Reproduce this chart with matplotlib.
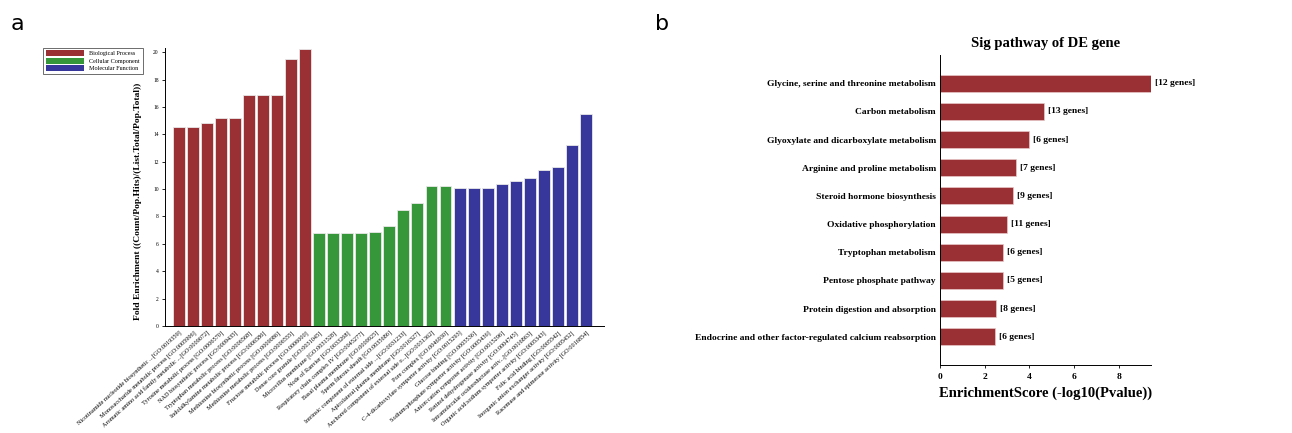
import matplotlib
matplotlib.use("Agg")
import matplotlib.pyplot as plt
from matplotlib.patches import Patch
import numpy as np

# panel a : GO enrichment data
go_terms = [
    "Nicotinamide nucleotide biosynthetic ...[GO:0019359]",
    "Monosaccharide metabolic process [GO:0005996]",
    "Aromatic amino acid family metabolic ...[GO:0009072]",
    "Tyrosine metabolic process [GO:0006570]",
    "NAD biosynthetic process [GO:0009435]",
    "Tryptophan metabolic process [GO:0006568]",
    "Indolalkylamine metabolic process [GO:0006586]",
    "Methionine biosynthetic process [GO:0009086]",
    "Methionine metabolic process [GO:0006555]",
    "Fructose metabolic process [GO:0006000]",
    "Dense core granule [GO:0031045]",
    "Microvillus membrane [GO:0031528]",
    "Node of Ranvier [GO:0033268]",
    "Respiratory chain complex IV [GO:0045277]",
    "Basal plasma membrane [GO:0009925]",
    "Sperm fibrous sheath [GO:0035686]",
    "Intrinsic component of external side ...[GO:0031233]",
    "Apicolateral plasma membrane [GO:0016327]",
    "Anchored component of external side o...[GO:0031362]",
    "Pore complex [GO:0046930]",
    "C-4-dicarboxylate symporter activity [GO:0015293]",
    "Glucose binding [GO:0005536]",
    "Sodium:phosphate symporter activity [GO:0005436]",
    "Anion:cation symporter activity [GO:0015296]",
    "Retinol dehydrogenase activity [GO:0004745]",
    "Intramolecular oxidoreductase activ...[GO:0016863]",
    "Organic acid:sodium symporter activity [GO:0005343]",
    "Folic acid binding [GO:0005542]",
    "Inorganic anion exchanger activity [GO:0005452]",
    "Racemase and epimerase activity [GO:0016854]",
]
fold_bp = [14.5, 14.5, 14.8, 15.2, 15.2, 16.9, 16.9, 16.9, 19.5, 20.2]
fold_cc = [6.8, 6.8, 6.8, 6.8, 6.9, 7.3, 8.5, 9.0, 10.2, 10.2]
fold_mf = [10.1, 10.1, 10.1, 10.4, 10.6, 10.8, 11.4, 11.6, 13.2, 15.5]
categories = ["Biological Process", "Cellular Component", "Molecular Function"]

# panel b : KEGG pathway data
pathways = [
    "Glycine, serine and threonine metabolism",
    "Carbon metabolism",
    "Glyoxylate and dicarboxylate metabolism",
    "Arginine and proline metabolism",
    "Steroid hormone biosynthesis",
    "Oxidative phosphorylation",
    "Tryptophan metabolism",
    "Pentose phosphate pathway",
    "Protein digestion and absorption",
    "Endocrine and other factor-regulated calcium reabsorption",
]
enrich_score = [9.45, 4.65, 3.97, 3.42, 3.27, 3.0, 2.83, 2.8, 2.5, 2.47]
gene_counts = [12, 13, 6, 7, 9, 11, 6, 5, 8, 6]

red = "#9b3034"
green = "#36973a"
blue = "#36369b"
serif = "Liberation Serif"

fig = plt.figure(figsize=(12.92, 4.33), dpi=100)

# ---- panel a ----
ax1 = fig.add_axes([0.1277, 0.247, 0.3398, 0.642])
values = fold_bp + fold_cc + fold_mf
colors = [red] * len(fold_bp) + [green] * len(fold_cc) + [blue] * len(fold_mf)
x = np.arange(len(values))
ax1.bar(x, values, width=0.85, color=colors, edgecolor="#e8e8e8", linewidth=0.6)
ax1.set_xlim(-1.0, 30.3)
ax1.set_ylim(0, 20.3)
ax1.set_yticks(np.arange(0, 21, 2))
ax1.set_yticklabels([str(v) for v in range(0, 21, 2)], fontsize=4, family=serif)
ax1.set_xticks(x)
ax1.set_xticklabels(go_terms, rotation=42, ha="right", rotation_mode="anchor",
                    fontsize=4.5, family=serif)
ax1.tick_params(axis="x", length=0, pad=3)
ax1.tick_params(axis="y", length=2.5, width=0.6, pad=2)
for s in ["top", "right"]:
    ax1.spines[s].set_visible(False)
ax1.spines["left"].set_linewidth(0.7)
ax1.spines["bottom"].set_linewidth(0.7)
ax1.set_ylabel("Fold Enrichment ((Count/Pop.Hits)/(List.Total/Pop.Total))",
               fontsize=6.8, fontweight="bold", family=serif)
ax1.yaxis.set_label_coords(-0.052, 0.45)

handles = [Patch(facecolor=c, edgecolor="none") for c in [red, green, blue]]
leg = fig.legend(handles, categories, loc="upper left",
                 bbox_to_anchor=(0.031, 0.897), prop={"family": serif, "size": 4.4},
                 handlelength=6.3, handleheight=1.1, labelspacing=0.25,
                 borderpad=0.45, handletextpad=0.8, fancybox=False,
                 edgecolor="#555555", framealpha=1)
leg.get_frame().set_linewidth(0.6)

fig.text(0.008, 0.945, "a", fontsize=16, va="center", ha="left")

# ---- panel b ----
ax2 = fig.add_axes([0.7276, 0.157, 0.1633, 0.716])
y = np.arange(len(pathways))
ax2.barh(y, enrich_score, height=0.6, color=red, edgecolor="#e8c8c8", linewidth=0.5)
ax2.set_ylim(10.0, -1.0)
ax2.set_xlim(0, 9.45)
ax2.set_yticks(y)
ax2.set_yticklabels(pathways, fontsize=6.8, fontweight="bold", family=serif)
ax2.tick_params(axis="y", length=0, pad=3)
ax2.set_xticks([0, 2, 4, 6, 8])
ax2.set_xticklabels(["0", "2", "4", "6", "8"], fontsize=6.8, fontweight="bold", family=serif)
ax2.tick_params(axis="x", length=2.5, width=0.6, pad=3)
for s in ["top", "right"]:
    ax2.spines[s].set_visible(False)
ax2.spines["left"].set_linewidth(0.7)
ax2.spines["bottom"].set_linewidth(0.7)
for yi, v, n in zip(y, enrich_score, gene_counts):
    ax2.text(v + 0.18, yi, "[%d genes]" % n, va="center", ha="left",
             fontsize=6.8, fontweight="bold", family=serif, clip_on=False)
ax2.set_xlabel("EnrichmentScore (-log10(Pvalue))", fontsize=10.5,
               fontweight="bold", family=serif, labelpad=4)
ax2.set_title("Sig pathway of DE gene", fontsize=10.5, fontweight="bold",
              family=serif, pad=6)

fig.text(0.507, 0.945, "b", fontsize=16, va="center", ha="left")

fig.savefig("out.png", dpi=100)
